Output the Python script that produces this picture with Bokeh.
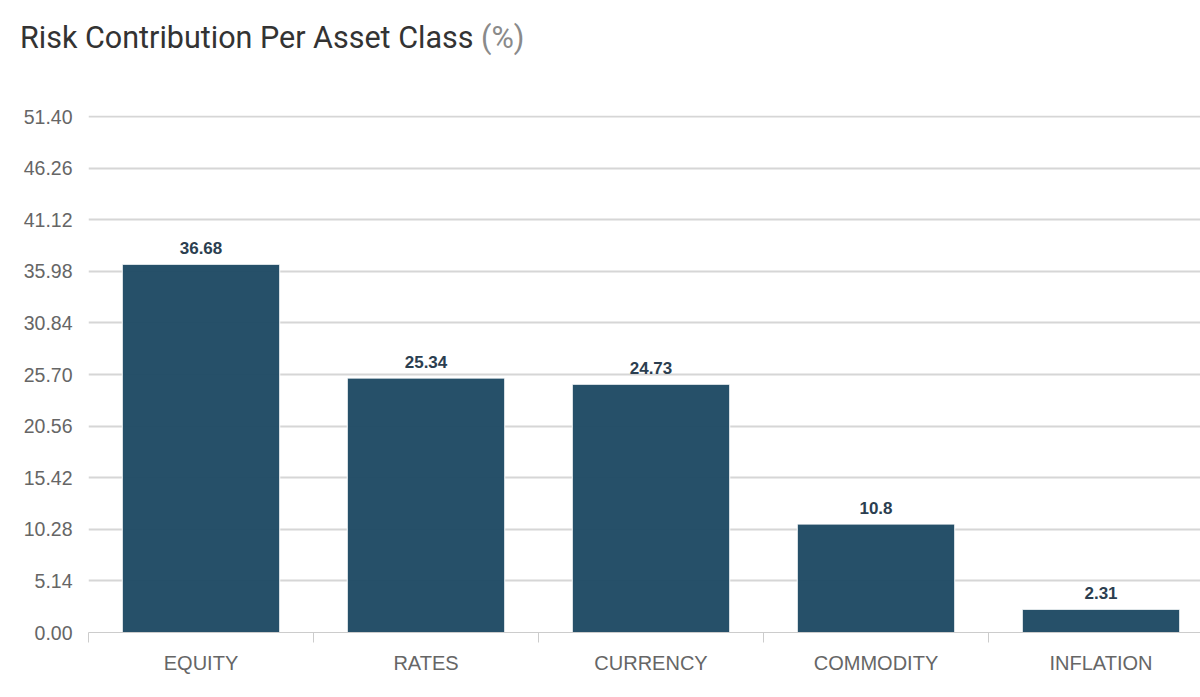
from bokeh.plotting import figure
from bokeh.layouts import column
from bokeh.models import ColumnDataSource, FixedTicker, LabelSet, Range1d, Div
from bokeh.core.properties import value
from bokeh.embed import file_html
from bokeh.resources import INLINE

title_main = "Risk Contribution Per Asset Class"
title_unit = "(%)"
categories = ["EQUITY", "RATES", "CURRENCY", "COMMODITY", "INFLATION"]
values = [36.68, 25.34, 24.73, 10.8, 2.31]
value_labels = ["36.68", "25.34", "24.73", "10.8", "2.31"]
y_ticks = [0.00, 5.14, 10.28, 15.42, 20.56, 25.70, 30.84, 35.98, 41.12, 46.26, 51.40]

x_pos = [i + 0.5 for i in range(len(categories))]
src = ColumnDataSource(dict(x=x_pos, top=values, lab=value_labels))

W = 1200
DIV_H = 70
H = 620
LEFT, TOP, BOTTOM = 88, 115 - DIV_H, 58

div = Div(text=f'<span style="color:#333333">{title_main}</span> '
               f'<span style="color:#8a8a8a">{title_unit}</span>',
          width=W, height=DIV_H, margin=(0, 0, 0, 0),
          styles={"font-family": "Roboto", "font-size": "30.5px",
                  "padding-left": "20px", "padding-top": "16px",
                  "white-space": "nowrap"})

p = figure(width=W, height=H, output_backend="svg", toolbar_location=None,
           x_range=Range1d(0, (W - LEFT) / 225), y_range=Range1d(0, 51.5),
           min_border_left=LEFT, min_border_right=0, min_border_top=TOP,
           min_border_bottom=BOTTOM, margin=(0, 0, 0, 0))
p.outline_line_color = None

p.vbar(x="x", top="top", width=0.7, bottom=0, source=src,
       fill_color="#1f4a64", fill_alpha=0.97, line_color="#ffffff", line_width=1)

labels = LabelSet(x="x", y="top", text="lab", source=src, text_align="center",
                  text_baseline="bottom", y_offset=10,
                  text_font=value("Liberation Sans"),
                  text_font_style="bold", text_font_size="17px", text_color="#2b3e50")
p.add_layout(labels)

p.yaxis.ticker = FixedTicker(ticks=y_ticks)
p.yaxis.major_label_overrides = {t: f"{t:.2f}" for t in y_ticks}
p.yaxis.axis_line_color = None
p.yaxis.major_tick_line_color = None
p.yaxis.major_tick_out = 0
p.yaxis.minor_tick_line_color = None
p.yaxis.minor_tick_out = 0
p.yaxis.major_label_text_font = "Liberation Sans"
p.yaxis.major_label_text_font_size = "19.5px"
p.yaxis.major_label_text_color = "#666666"
p.yaxis.major_label_standoff = 16

p.xaxis.ticker = FixedTicker(ticks=x_pos, minor_ticks=[0, 1, 2, 3, 4, 5])
p.xaxis.major_label_overrides = {x: c for x, c in zip(x_pos, categories)}
p.xaxis.axis_line_color = "#cccccc"
p.xaxis.major_tick_line_color = None
p.xaxis.minor_tick_line_color = "#cccccc"
p.xaxis.minor_tick_out = 10
p.xaxis.minor_tick_in = 0
p.xaxis.major_label_text_font = "Liberation Sans"
p.xaxis.major_label_text_font_size = "20px"
p.xaxis.major_label_text_color = "#666666"
p.xaxis.major_label_standoff = 9

p.xgrid.grid_line_color = None
p.ygrid.ticker = FixedTicker(ticks=y_ticks[1:])
p.ygrid.grid_line_color = "#d6d6d6"
p.ygrid.grid_line_width = 2

layout = column(div, p, spacing=0, margin=(0, 0, 0, 0))
open("out.html", "w").write(file_html(layout, INLINE))
